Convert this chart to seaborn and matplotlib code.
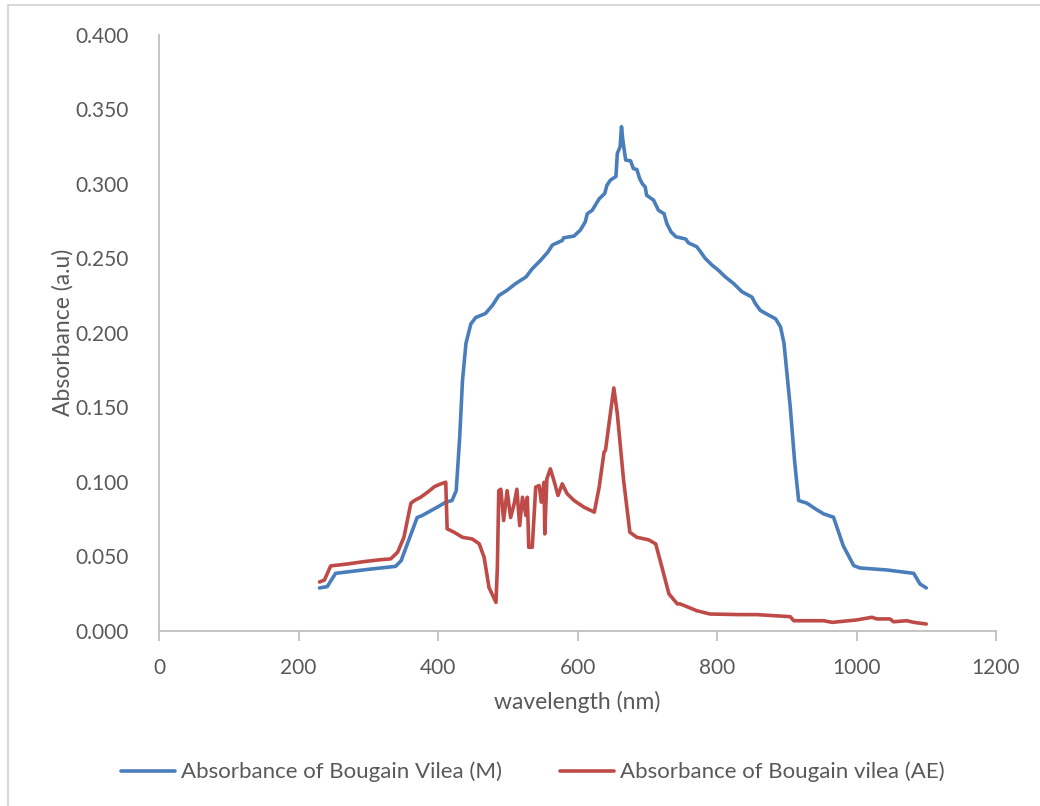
import matplotlib
matplotlib.use("Agg")
import matplotlib.pyplot as plt
import seaborn as sns
import pandas as pd
from matplotlib.lines import Line2D

# ---- data ----
wl_m = [230, 241, 253, 300, 339, 347, 370, 377, 399, 411, 420, 426, 431, 435, 440, 447, 454,
        468, 478, 487, 499, 511, 526, 535, 547, 557, 564, 578, 580, 595, 604, 611, 614,
        621, 631, 639, 642, 647, 655, 657, 661, 663, 665, 669, 676, 680, 685, 689, 693,
        697, 699, 709, 716, 724, 728, 734, 741, 755, 759, 771, 778, 783, 793, 802, 812,
        824, 836, 850, 855, 862, 872, 884, 891, 896, 905, 911, 914, 917, 929, 941, 953,
        967, 981, 996, 1005, 1043, 1082, 1091, 1100]
abs_m = [0.0287, 0.0296, 0.0385, 0.0412, 0.0432, 0.0470, 0.0760, 0.0773, 0.0830, 0.0863,
         0.0874, 0.0940, 0.1300, 0.1680, 0.1930, 0.2060, 0.2103, 0.2130, 0.2185, 0.2250, 0.2286,
         0.2330, 0.2375, 0.2430, 0.2487, 0.2540, 0.2590, 0.2620, 0.2638, 0.2650, 0.2690,
         0.2745, 0.2800, 0.2823, 0.2900, 0.2936, 0.2990, 0.3025, 0.3050, 0.3204, 0.3250,
         0.3384, 0.3290, 0.3160, 0.3155, 0.3103, 0.3097, 0.3036, 0.3000, 0.2980, 0.2924,
         0.2891, 0.2823, 0.2800, 0.2734, 0.2678, 0.2645, 0.2630, 0.2604, 0.2578, 0.2533,
         0.2500, 0.2454, 0.2420, 0.2375, 0.2330, 0.2275, 0.2240, 0.2196, 0.2151, 0.2124,
         0.2094, 0.2040, 0.1930, 0.1500, 0.1150, 0.1008, 0.0874, 0.0856, 0.0818, 0.0784,
         0.0762, 0.0570, 0.0437, 0.0421, 0.0408, 0.0385, 0.0314, 0.0287]

wl_ae = [230, 237, 246, 270, 294, 318, 332, 342, 351, 361, 366, 375, 385, 395, 404, 411,
         413, 423, 435, 449, 459, 466, 473, 483, 485, 487, 490, 494, 499, 504, 509, 513,
         517, 521, 526, 528, 530, 535, 540, 545, 548, 552, 553, 556, 561, 566, 572, 578,
         585, 595, 609, 624, 631, 638, 640, 647, 652, 657, 666, 675, 685, 702, 712, 721,
         731, 743, 747, 771, 790, 833, 857, 905, 910, 953, 965, 1000, 1022, 1029, 1048,
         1053, 1072, 1082, 1100]
abs_ae = [0.0327, 0.0340, 0.0435, 0.0448, 0.0464, 0.0477, 0.0482, 0.0527, 0.0627, 0.0856,
          0.0874, 0.0896, 0.0930, 0.0968, 0.0986, 0.0997, 0.0684, 0.0661, 0.0627, 0.0616,
          0.0583, 0.0493, 0.0290, 0.0190, 0.0426, 0.0940, 0.0950, 0.0740, 0.0940, 0.0760,
          0.0850, 0.0950, 0.0706, 0.0896, 0.0773, 0.0896, 0.0560, 0.0560, 0.0964, 0.0975,
          0.0863, 0.0997, 0.0650, 0.1020, 0.1087, 0.1010, 0.0908, 0.0986, 0.0920, 0.0874,
          0.0830, 0.0796, 0.0964, 0.1200, 0.1210, 0.1457, 0.1630, 0.1457, 0.1010, 0.0661,
          0.0627, 0.0610, 0.0583, 0.0426, 0.0247, 0.0180, 0.0180, 0.0134, 0.0112, 0.0108,
          0.0108, 0.0094, 0.0067, 0.0067, 0.0056, 0.0072, 0.0090, 0.0079, 0.0079, 0.0060,
          0.0067, 0.0056, 0.0045]

label_m = "Absorbance of Bougain Vilea (M)"
label_ae = "Absorbance of Bougain vilea (AE)"
x_ticks = [0, 200, 400, 600, 800, 1000, 1200]
y_ticks = [0.0, 0.05, 0.1, 0.15, 0.2, 0.25, 0.3, 0.35, 0.4]

df = pd.concat([
    pd.DataFrame({"wavelength": wl_m, "absorbance": abs_m, "series": label_m}),
    pd.DataFrame({"wavelength": wl_ae, "absorbance": abs_ae, "series": label_ae}),
], ignore_index=True)

sns.set_theme(style="white")
plt.rcParams["font.family"] = ["Lato", "DejaVu Sans"]
TXT = "#595959"
AX = "#BFBFBF"
BLUE = "#4A7EBB"
RED = "#BE4B48"

fig = plt.figure(figsize=(10.4, 8.06), dpi=100)
ax = fig.add_axes([0.153, 0.2175, 0.8047, 0.7391])

sns.lineplot(data=df, x="wavelength", y="absorbance", hue="series",
             palette={label_m: BLUE, label_ae: RED}, estimator=None, sort=False,
             linewidth=2.6, legend=False, ax=ax)

ax.set_xlim(0, 1200)
ax.set_ylim(0, 0.4)
ax.set_xticks(x_ticks)
ax.set_xticklabels([str(v) for v in x_ticks])
ax.set_yticks(y_ticks)
ax.set_yticklabels([f"{v:.3f}" for v in y_ticks])

for s in ["top", "right"]:
    ax.spines[s].set_visible(False)
for s in ["left", "bottom"]:
    ax.spines[s].set_color(AX)
    ax.spines[s].set_linewidth(1.3)
ax.tick_params(axis="x", which="both", bottom=True, length=7, width=1.3, color=AX,
               labelsize=15, labelcolor=TXT, pad=13)
ax.tick_params(axis="y", which="both", left=False, labelsize=15, labelcolor=TXT, pad=16)

ax.set_xlabel("wavelength (nm)", fontsize=16.5, color=TXT, labelpad=9)
ax.set_ylabel("Absorbance (a.u)", fontsize=16.5, color=TXT, labelpad=1)

handles = [Line2D([], [], color=BLUE, lw=2.6), Line2D([], [], color=RED, lw=2.6)]
leg = fig.legend(handles, [label_m, label_ae], loc="center", bbox_to_anchor=(0.512, 0.042),
                 ncol=2, frameon=False, fontsize=16, handlelength=2.45, handletextpad=0.25,
                 columnspacing=2.6)
for t in leg.get_texts():
    t.set_color(TXT)

# chart-area border (only left and top edges visible in the reference)
fig.add_artist(Line2D([0.0075, 0.0075], [0.0, 0.9935], transform=fig.transFigure,
                      color="#D9D9D9", lw=1.5))
fig.add_artist(Line2D([0.0075, 1.0], [0.9935, 0.9935], transform=fig.transFigure,
                      color="#D9D9D9", lw=1.5))

fig.savefig("out.png", dpi=100, facecolor="white")
